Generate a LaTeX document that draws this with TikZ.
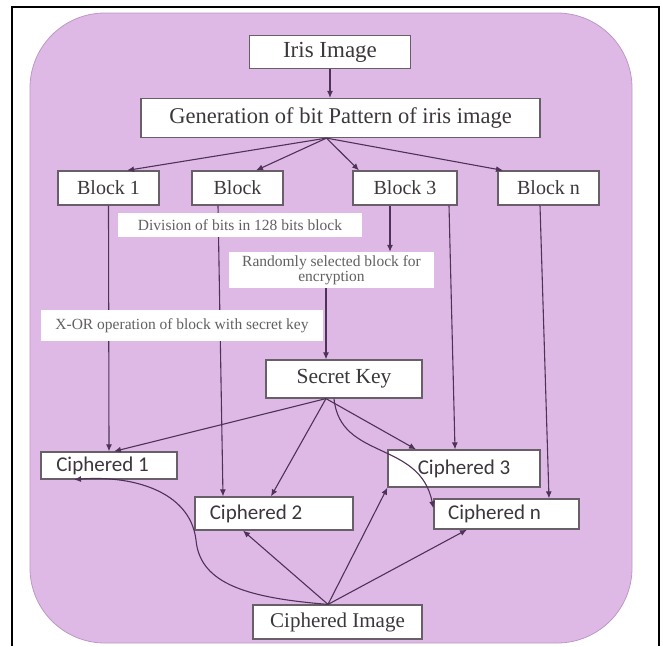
\documentclass[tikz,border=0pt]{standalone}
\usepackage{fontspec}
\setmainfont{Liberation Serif}
\newfontfamily\stagefont{Liberation Serif}
\newfontfamily\cipherfont{Carlito}
\usepackage{tikz}
\usetikzlibrary{arrows.meta,positioning,calc}
\definecolor{irisPink}{RGB}{223,185,229}
\definecolor{irisEdge}{RGB}{190,150,200}
\definecolor{irisLine}{RGB}{78,50,88}
\definecolor{irisBox}{RGB}{105,95,105}
\definecolor{irisText}{RGB}{60,55,60}

\begin{document}
\begin{tikzpicture}[
    x=1pt, y=-1pt,
    stagebox/.style={rectangle, draw=irisBox, fill=white, line width=1.2pt, inner sep=0pt, text=irisText, font=\stagefont\fontsize{20}{22}\selectfont},
    cipherbox/.style={stagebox, font=\cipherfont\fontsize{21}{23}\selectfont},
    notebox/.style={rectangle, fill=white, inner sep=0pt, text=irisText!80, align=center, font=\stagefont\fontsize{15.5}{15}\selectfont},
    arrow/.style={-{Latex[length=7pt,width=6pt]}, line width=1.1pt, draw=irisLine}
]
    \useasboundingbox (0,0) rectangle (663,646);

    % Frame and background
    \draw[line width=1.6pt] (12,646) -- (12,7) -- (659,7) -- (659,646);
    \draw[fill=irisPink, draw=irisEdge, line width=0.8pt, rounded corners=75pt] (30,13) rectangle (632,643);

    % Top stages
    \node[stagebox, minimum width=161pt, minimum height=33pt, font=\stagefont\fontsize{23}{25}\selectfont] (iris) at (330,52) {Iris Image};
    \node[stagebox, minimum width=399pt, minimum height=39pt, font=\stagefont\fontsize{22.5}{25}\selectfont] (gen) at (340.5,118) {Generation of bit Pattern of iris image};

    % Block row
    \node[stagebox, minimum width=101pt, minimum height=34pt] (b1) at (108.5,188) {Block 1};
    \node[stagebox, minimum width=91pt, minimum height=34pt] (blk) at (237.5,188) {Block};
    \node[stagebox, minimum width=104pt, minimum height=34pt] (b3) at (405,188) {Block 3};
    \node[stagebox, minimum width=101pt, minimum height=34pt] (bn) at (548.5,188) {Block n};

    % Key
    \node[stagebox, minimum width=156pt, minimum height=38pt, font=\stagefont\fontsize{21.5}{24}\selectfont] (key) at (344,379) {Secret Key};

    % Ciphered blocks
    \node[cipherbox, minimum width=136pt, minimum height=27pt] (c1) at (109,465.5) {Ciphered 1\hspace*{13pt}};
    \node[cipherbox, minimum width=152pt, minimum height=37pt] (c3) at (464,468.5) {Ciphered 3};
    \node[cipherbox, minimum width=158pt, minimum height=33pt] (c2) at (274,513.5) {Ciphered 2\hspace*{36pt}};
    \node[cipherbox, minimum width=145pt, minimum height=30pt] (cn) at (506.5,514) {Ciphered n\hspace*{24pt}};

    \node[stagebox, minimum width=169pt, minimum height=34pt, font=\stagefont\fontsize{21}{23}\selectfont] (cimg) at (337.5,622) {Ciphered Image};

    \coordinate (fan) at ([xshift=-14pt]gen.south);
    \coordinate (keyout) at ([xshift=-18pt]key.south);
    \coordinate (imgout) at ([xshift=-9.5pt]cimg.north);

    \draw[arrow] (iris.south) -- (iris.south |- gen.north);
    \draw[arrow] (fan) -- ([xshift=18.5pt]b1.north);
    \draw[arrow] (fan) -- ([xshift=18.5pt]blk.north);
    \draw[arrow] (fan) -- ([xshift=-46pt]b3.north);
    \draw[arrow] (fan) -- ([xshift=-45.5pt]bn.north);

    % Blocks down to ciphered blocks
    \draw[arrow] (b1.south) -- (c1.north);
    \draw[arrow] ([xshift=-19.5pt]blk.south) -- ([xshift=-51pt]c2.north);
    \draw[arrow] ([xshift=44pt]b3.south) -- ([xshift=-9pt]c3.north);
    \draw[arrow] ([xshift=-8.5pt]bn.south) -- ([xshift=42.5pt]cn.north);

    % Notes on top of the lines
    \node[notebox, minimum width=244pt, minimum height=24pt] (div) at (240,225) {Division of bits in 128 bits block};
    \node[notebox, minimum width=205pt, minimum height=36pt] (rand) at (331.5,270) {Randomly selected block for\\encryption};
    \node[notebox, minimum width=282pt, minimum height=31pt] (xor) at (182,325.5) {X-OR operation of block with secret key};

    \draw[arrow] ([xshift=-15pt]b3.south) -- ([xshift=-15pt]b3.south |- rand.north);
    \draw[arrow] ([xshift=-5.5pt]rand.south) -- ([xshift=-18pt]key.north);

    % Secret key to ciphered blocks
    \draw[arrow] (keyout) -- ([xshift=5pt]c1.north);
    \draw[arrow] (keyout) -- ([xshift=-3pt]c2.north);
    \draw[arrow] (keyout) -- ([xshift=-48pt]c3.north);
    \draw[arrow] ([xshift=-10pt]key.south) .. controls ([xshift=-4pt,yshift=-62pt]key.south) and (420,440) .. ([yshift=-10pt]cn.north west);

    % Ciphered image back to ciphered blocks
    \draw[arrow] (imgout) .. controls (250,598) and (200,585) .. (196,540) .. controls (190,490) and (130,475) .. ([xshift=-35pt]c1.south);
    \draw[arrow] (imgout) -- ([xshift=-31pt]c2.south);
    \draw[arrow] (imgout) -- (c3.south west);
    \draw[arrow] (imgout) -- ([xshift=-39.5pt]cn.south);
\end{tikzpicture}
\end{document}
